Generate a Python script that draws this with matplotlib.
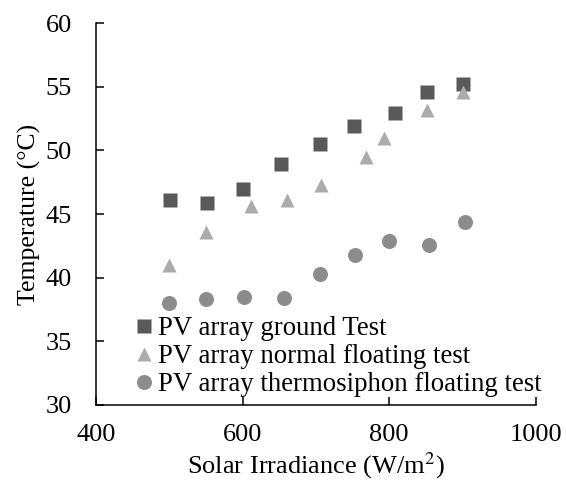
import matplotlib
matplotlib.use("Agg")
import matplotlib.pyplot as plt

plt.rcParams['font.family'] = ['Liberation Serif', 'DejaVu Serif']
plt.rcParams['mathtext.fontset'] = 'stix'

ground_x = [501, 552, 600, 653, 705, 752, 808, 852, 901]
ground_y = [46.1, 45.9, 47.0, 48.9, 50.5, 51.9, 52.9, 54.6, 55.2]

normal_x = [499, 550, 611, 660, 707, 768, 793, 852, 901]
normal_y = [41.0, 43.6, 45.6, 46.1, 47.3, 49.5, 51.0, 53.2, 54.6]

thermo_x = [499, 550, 602, 656, 705, 754, 800, 855, 904]
thermo_y = [38.0, 38.3, 38.5, 38.4, 40.3, 41.8, 42.9, 42.6, 44.4]

labels = ["PV array ground Test", "PV array normal floating test",
          "PV array thermosiphon floating test"]

fig = plt.figure(figsize=(5.66, 4.82), dpi=100)
ax = fig.add_axes([0.1696, 0.1598, 0.777, 0.7924])

ax.plot(normal_x, normal_y, linestyle='none', marker='^', ms=10.5,
        color='#ABABAB', mec='none', label=labels[1], zorder=2)
ax.plot(ground_x, ground_y, linestyle='none', marker='s', ms=10.5,
        color='#595959', mec='none', label=labels[0], zorder=1)
ax.plot(thermo_x, thermo_y, linestyle='none', marker='o', ms=10.8,
        color='#8C8C8C', mec='none', label=labels[2], zorder=2)

ax.set_xlim(400, 1000)
ax.set_ylim(30, 60)
ax.set_xticks([400, 600, 800, 1000])
ax.set_yticks([30, 35, 40, 45, 50, 55, 60])

for s in ['top', 'right']:
    ax.spines[s].set_visible(False)
for s in ['left', 'bottom']:
    ax.spines[s].set_linewidth(1.1)
ax.tick_params(direction='in', length=5.5, width=1.1, labelsize=19)
ax.tick_params(axis='y', pad=17.5)
ax.tick_params(axis='x', pad=14)

ax.set_xlabel('Solar Irradiance (W/m$^2$)', fontsize=19, labelpad=3)
ax.set_ylabel('Temperature (°C)', fontsize=18.5, labelpad=3)

h, l = ax.get_legend_handles_labels()
order = [1, 0, 2]
leg = ax.legend([h[i] for i in order], [l[i] for i in order], loc='lower left',
                bbox_to_anchor=(0.075, 0.02), frameon=False, fontsize=19.3,
                handletextpad=0.0, handlelength=1.1, labelspacing=0.12,
                borderaxespad=0.0, borderpad=0.0)

fig.savefig('out.png', dpi=100)
